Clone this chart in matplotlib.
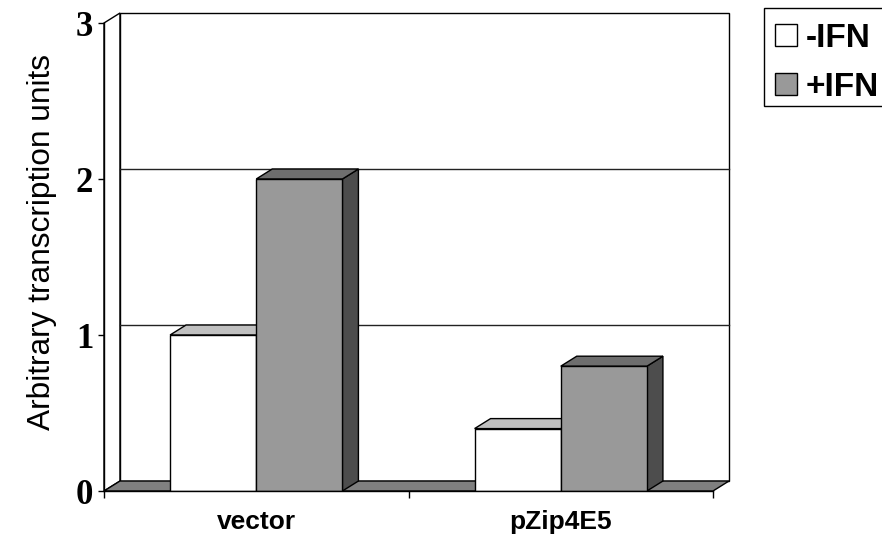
import numpy as np
import matplotlib.pyplot as plt
from matplotlib.patches import Polygon, Rectangle

categories = ["vector", "pZip4E5"]
series = ["-IFN", "+IFN"]
minus_ifn = [1.0, 0.40]
plus_ifn = [2.0, 0.80]
yticks = [0, 1, 2, 3]

front_cols = ["#ffffff", "#999999"]
top_cols = ["#c0c0c0", "#6e6e6e"]
side_cols = ["#808080", "#4d4d4d"]

W, H = 882, 542
fig = plt.figure(figsize=(W / 100, H / 100), dpi=100)
ax = fig.add_axes([104 / W, 51 / H, 609 / W, 468 / H])
ax.set_xlim(-0.5, 1.5)
ax.set_ylim(0, 3)
ax.patch.set_visible(False)

# depth offset of the 3d box, in data units
dx = 16 / 609 * 2
dy = 10 / 468 * 3
x0, x1 = -0.5, 1.5
ymax = 3
lw = 1.0

def poly(pts, fc, z=2):
    ax.add_patch(Polygon(pts, closed=True, facecolor=fc, edgecolor="black",
                         lw=lw, zorder=z, clip_on=False, joinstyle="miter"))

# walls
poly([(x0, 0), (x0 + dx, dy), (x0 + dx, ymax + dy), (x0, ymax)], "white", 0.5)
poly([(x0 + dx, dy), (x1 + dx, dy), (x1 + dx, ymax + dy), (x0 + dx, ymax + dy)], "white", 0.5)
for v in yticks[1:-1]:
    ax.plot([x0 + dx, x1 + dx], [v + dy, v + dy], color="#222222", lw=1.0,
            zorder=0.6, clip_on=False)
# floor
poly([(x0, 0), (x1, 0), (x1 + dx, dy), (x0 + dx, dy)], "#808080", 1)

bw = 0.283
for i, cat in enumerate(categories):
    for j, vals in enumerate([minus_ifn, plus_ifn]):
        h = vals[i]
        left = i + (j - 1) * bw
        right = left + bw
        poly([(right, 0), (right + dx, dy), (right + dx, h + dy), (right, h)], side_cols[j], 2 + j)
        poly([(left, h), (right, h), (right + dx, h + dy), (left + dx, h + dy)], top_cols[j], 2 + j)
        ax.bar(left, h, width=bw, align="edge", color=front_cols[j],
               edgecolor="black", lw=lw, zorder=2 + j)

for s in ["top", "right"]:
    ax.spines[s].set_visible(False)
ax.spines["left"].set_linewidth(lw)
ax.spines["bottom"].set_linewidth(lw)
ax.spines["left"].set_zorder(5)
ax.spines["bottom"].set_zorder(5)

ax.set_yticks(yticks)
ax.set_yticklabels([str(t) for t in yticks], fontfamily="Liberation Serif",
                   fontweight="bold", fontsize=25)
ax.tick_params(axis="y", length=4.3, width=lw, pad=3.6, direction="out")

ax.set_xticks([0, 1])
ax.set_xticklabels(categories, fontfamily="Liberation Sans", fontweight="bold", fontsize=19)
ax.tick_params(axis="x", length=0, pad=13.5)
ax.set_xticks([-0.5, 0.5, 1.5], minor=True)
ax.tick_params(axis="x", which="minor", length=5, width=lw, direction="out")

ax.set_ylabel("Arbitrary transcription units", fontfamily="Liberation Sans", fontsize=22.8)
ax.yaxis.set_label_coords(-0.077, 0.532)

# legend, laid out in pixel coordinates
lax = fig.add_axes([0, 0, 1, 1], zorder=10)
lax.set_xlim(0, W)
lax.set_ylim(H, 0)
lax.axis("off")
lax.add_patch(Rectangle((764, 8), 130, 98, facecolor="white", edgecolor="black",
                        lw=lw, clip_on=False))
for k, name in enumerate(series):
    lax.add_patch(Rectangle((775, 24 + 49 * k), 22, 22, facecolor=front_cols[k],
                            edgecolor="black", lw=lw))
    lax.text(806, 47 + 49 * k, name, fontfamily="Liberation Sans", fontweight="bold",
             fontsize=24, va="baseline", ha="left")

fig.savefig("out.png", dpi=100)
